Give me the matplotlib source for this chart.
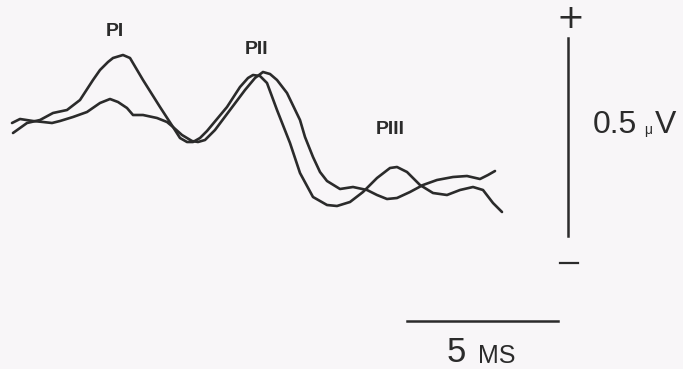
import matplotlib.pyplot as plt

plt.rcParams['font.family'] = ['Liberation Sans', 'DejaVu Sans']

# trace positions (pixel units: x = time, y = amplitude, y grows downward)
trace_a_x = [13, 20, 27, 40, 53, 67, 80, 93, 100, 108, 113, 123, 130, 143, 160, 173, 180,
             187, 193, 200, 207, 227, 240, 248, 253, 260, 267, 277, 290, 300, 313, 327,
             337, 350, 363, 377, 390, 397, 407, 420, 433, 447, 460, 473, 483, 493, 502]
trace_a_y = [133, 128, 123, 120, 113, 110, 100, 80, 70, 62, 58, 55, 58, 80, 107, 127, 138,
             142, 142, 138, 131, 107, 87, 78, 75, 76, 83, 110, 143, 173, 197, 205,
             206, 202, 192, 178, 168, 167, 172, 185, 193, 195, 190, 187, 190, 203, 212]

trace_b_x = [12, 20, 33, 43, 52, 60, 73, 87, 100, 110, 118, 127, 133, 143, 157, 167, 173,
             182, 192, 198, 205, 215, 230, 245, 255, 263, 270, 277, 287, 300, 305, 313,
             320, 327, 340, 353, 367, 377, 387, 397, 410, 423, 437, 453, 467, 480, 488, 495]
trace_b_y = [123, 119, 121, 122, 123, 121, 117, 112, 103, 99, 102, 108, 115, 115, 118, 122, 127,
             135, 141, 142, 140, 130, 110, 90, 78, 72, 74, 80, 93, 120, 137, 157,
             172, 181, 189, 187, 190, 195, 199, 198, 192, 185, 180, 177, 176, 179, 175, 171]

peak_labels = ["PI", "PII", "PIII"]
peak_pos = [(115, 31), (257, 49), (390, 130)]

# calibration bars
volt_bar = (568, 38, 236)   # x, top, bottom
time_bar = (321, 407, 558)  # y, left, right

fig = plt.figure(figsize=(6.83, 3.69), dpi=100, facecolor="#f8f6f8")
ax = fig.add_axes([0, 0, 1, 1])
ax.set_facecolor("#f8f6f8")
ax.set_xlim(0, 683)
ax.set_ylim(369, 0)
ax.axis("off")

ink = "#2b2b2b"
ax.plot(trace_a_x, trace_a_y, color=ink, lw=1.9, solid_joinstyle="round", solid_capstyle="round")
ax.plot(trace_b_x, trace_b_y, color=ink, lw=1.9, solid_joinstyle="round", solid_capstyle="round")

for lab, (px, py) in zip(peak_labels, peak_pos):
    ax.text(px, py, lab, ha="center", va="center", fontsize=14, fontweight="bold", color=ink)

# amplitude bar
ax.plot([volt_bar[0], volt_bar[0]], [volt_bar[1], volt_bar[2]], color=ink, lw=1.8)
ax.text(570, 19, "+", ha="center", va="center", fontsize=24, color=ink,
        family="DejaVu Sans")
ax.plot([560, 578], [263, 263], color=ink, lw=1.6)
ax.text(593, 125, "0.5", ha="left", va="center", fontsize=23, color=ink)
ax.text(644, 130, "\u03bc", ha="left", va="center", fontsize=10, color=ink)
ax.text(655, 125, "V", ha="left", va="center", fontsize=23, color=ink)

# time bar
ax.plot([time_bar[1], time_bar[2]], [time_bar[0], time_bar[0]], color=ink, lw=1.8)
ax.text(456, 352, "5", ha="center", va="center", fontsize=25, color=ink)
ax.text(497, 356, "MS", ha="center", va="center", fontsize=18, color=ink)

fig.savefig("out.png", dpi=100, facecolor=fig.get_facecolor())
